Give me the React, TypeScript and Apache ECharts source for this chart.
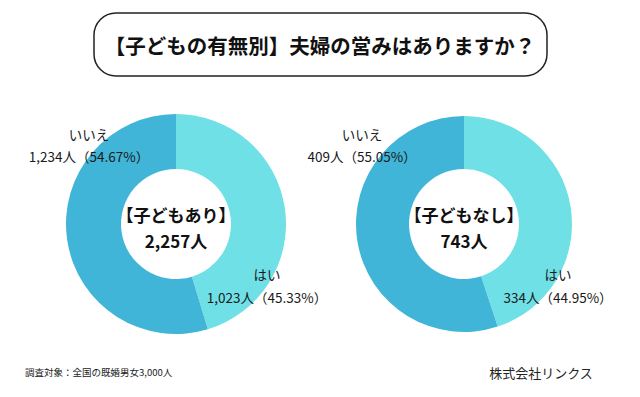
import React, { useEffect, useRef } from "react";
import * as echarts from "echarts";

const groups = ["子どもあり", "子どもなし"];
const answers = ["はい", "いいえ"];
const yesCounts = [1023, 334];
const noCounts = [1234, 409];
const titleText = "【子どもの有無別】夫婦の営みはありますか？";
const noteText = "調査対象：全国の既婚男女3,000人";
const sourceText = "株式会社リンクス";

const COLORS = ["#6ee0e6", "#41b5d7"];
const FONT = "'Noto Sans CJK JP', 'Noto Sans', sans-serif";

const fmt = (n: number) => n.toLocaleString("en-US");

export default function App() {
  const ref = useRef<HTMLDivElement>(null);
  useEffect(() => {
    if (!ref.current) return;
    const chart = echarts.init(ref.current, undefined, { renderer: "svg" });
    const centers = [
      [176, 224],
      [464, 224],
    ];
    const radii = [
      [55, 110],
      [55, 108],
    ];
    const noLabelX = [89, 362];
    const yesLabelX = [267, 558];

    const series: any[] = groups.map((g, i) => ({
      type: "pie",
      name: g,
      center: centers[i],
      radius: radii[i],
      startAngle: 90,
      clockwise: true,
      silent: true,
      z: 1,
      label: { show: false },
      labelLine: { show: false },
      itemStyle: { borderWidth: 0 },
      data: [
        { name: answers[0], value: yesCounts[i], itemStyle: { color: COLORS[0] } },
        { name: answers[1], value: noCounts[i], itemStyle: { color: COLORS[1] } },
      ],
    }));

    const graphics: any[] = [
      {
        type: "rect",
        z: 100,
        shape: { x: 94, y: 13, width: 453, height: 63, r: 22 },
        style: { fill: "#fff", stroke: "#222", lineWidth: 1.5 },
      },
      {
        type: "text",
        z: 101,
        x: 320,
        y: 45,
        style: {
          text: titleText,
          fill: "#111",
          font: `bold 20.5px ${FONT}`,
          align: "center",
          verticalAlign: "middle",
        },
      },
      {
        type: "text",
        z: 101,
        x: 25,
        y: 372,
        style: { text: noteText, fill: "#222", font: `9.5px ${FONT}`, verticalAlign: "middle" },
      },
      {
        type: "text",
        z: 101,
        x: 541,
        y: 372,
        style: {
          text: sourceText,
          fill: "#222",
          font: `13px ${FONT}`,
          align: "center",
          verticalAlign: "middle",
        },
      },
    ];

    groups.forEach((g, i) => {
      const total = yesCounts[i] + noCounts[i];
      const yesPct = ((yesCounts[i] / total) * 100).toFixed(2);
      const noPct = ((noCounts[i] / total) * 100).toFixed(2);
      const cx = centers[i][0];
      const cy = centers[i][1];
      const txt = (x: number, y: number, text: string, font: string, fill = "#1a1a1a") => ({
        type: "text",
        z: 101,
        x,
        y,
        style: { text, fill, font, align: "center", verticalAlign: "middle" },
      });
      graphics.push(
        txt(cx, cy - 10, `【${g}】`, `bold 17px ${FONT}`, "#111"),
        txt(cx, cy + 16, `${fmt(total)}人`, `bold 17px ${FONT}`, "#111"),
        txt(noLabelX[i], 134, answers[1], `13.5px ${FONT}`),
        txt(noLabelX[i], 156, `${fmt(noCounts[i])}人（${noPct}%）`, `13.5px ${FONT}`),
        txt(yesLabelX[i], 274, answers[0], `13.5px ${FONT}`),
        txt(yesLabelX[i], 297, `${fmt(yesCounts[i])}人（${yesPct}%）`, `13.5px ${FONT}`)
      );
    });

    chart.setOption({
      animation: false,
      backgroundColor: "#ffffff",
      series,
      graphic: { elements: graphics },
    });
    return () => chart.dispose();
  }, []);
  return (
    <div
      ref={ref}
      style={{ position: "fixed", left: 0, top: 0, width: 640, height: 397 }}
    />
  );
}
